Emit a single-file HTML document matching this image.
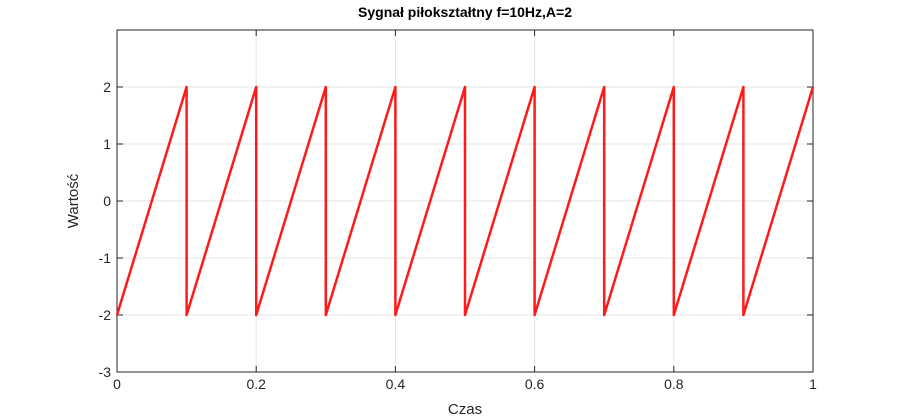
<!DOCTYPE html>
<html><head><meta charset="utf-8"><style>
body{margin:0;background:#fff;}
svg{display:block;font-family:"Liberation Sans",Arial,sans-serif;}
</style></head><body>
<svg id="c" width="900" height="420"></svg>
<script>
const times=[0,0.1,0.1,0.2,0.2,0.3,0.3,0.4,0.4,0.5,0.5,0.6,0.6,0.7,0.7,0.8,0.8,0.9,0.9,1.0];
const values=[-2,2,-2,2,-2,2,-2,2,-2,2,-2,2,-2,2,-2,2,-2,2,-2,2];
const xTicks=[0,0.2,0.4,0.6,0.8,1];
const xTickLabels=["0","0.2","0.4","0.6","0.8","1"];
const yTicks=[-3,-2,-1,0,1,2];
const yTickLabels=["-3","-2","-1","0","1","2"];
const L=117,R=813,T=30,B=372;
const xs=v=>L+(v-0)/(1-0)*(R-L);
const ys=v=>B-(v+3)/(6)*(B-T);
const svg=document.getElementById('c');
const NS='http://www.w3.org/2000/svg';
function mk(tag,attrs,parent){const e=document.createElementNS(NS,tag);for(const k in attrs)e.setAttribute(k,attrs[k]);(parent||svg).appendChild(e);return e;}
const bg=mk('rect',{x:L,y:T,width:R-L,height:B-T,fill:'#fff'});


xTicks.forEach((t,i)=>{
 const g=mk('line',{x1:xs(t),x2:xs(t),y1:T,y2:B,stroke:'#e4e4e4','stroke-width':1});
 
 
 mk('line',{x1:xs(t),x2:xs(t),y1:B,y2:B-6,stroke:'#262626'});
 mk('line',{x1:xs(t),x2:xs(t),y1:T,y2:T+6,stroke:'#262626'});
 const tx=mk('text',{x:xs(t),y:B+17,'text-anchor':'middle','font-size':14,fill:'#262626'});
 tx.textContent=xTickLabels[i];
 
 
});
yTicks.forEach((t,i)=>{
 const g=mk('line',{x1:L,x2:R,y1:ys(t),y2:ys(t),stroke:'#e4e4e4','stroke-width':1});
 
 
 mk('line',{x1:L,x2:L+6,y1:ys(t),y2:ys(t),stroke:'#262626'});
 mk('line',{x1:R,x2:R-6,y1:ys(t),y2:ys(t),stroke:'#262626'});
 const tx=mk('text',{x:L-6,y:ys(t)+5,'text-anchor':'end','font-size':14,fill:'#262626'});
 tx.textContent=yTickLabels[i];
 
 
});
const box=mk('rect',{x:L,y:T,width:R-L,height:B-T,fill:'none',stroke:'#262626','stroke-width':1});


const pts=times.map((t,i)=>xs(t)+','+ys(values[i])).join(' ');
const line=mk('polyline',{points:pts,fill:'none',stroke:'#ff1a1a','stroke-width':2.5,'stroke-linejoin':'round'});


const title=mk('text',{x:(L+R)/2,y:17,'text-anchor':'middle','font-size':14,'font-weight':'bold',fill:'#000'});
title.textContent='Sygnał piłokształtny f=10Hz,A=2';


const xl=mk('text',{x:(L+R)/2,y:414,'text-anchor':'middle','font-size':15,fill:'#262626'});
xl.textContent='Czas';


const yl=mk('text',{x:0,y:0,'text-anchor':'middle','font-size':15,fill:'#262626',transform:'translate(78,201) rotate(-90)'});
yl.textContent='Wartość';


</script>
</body></html>
